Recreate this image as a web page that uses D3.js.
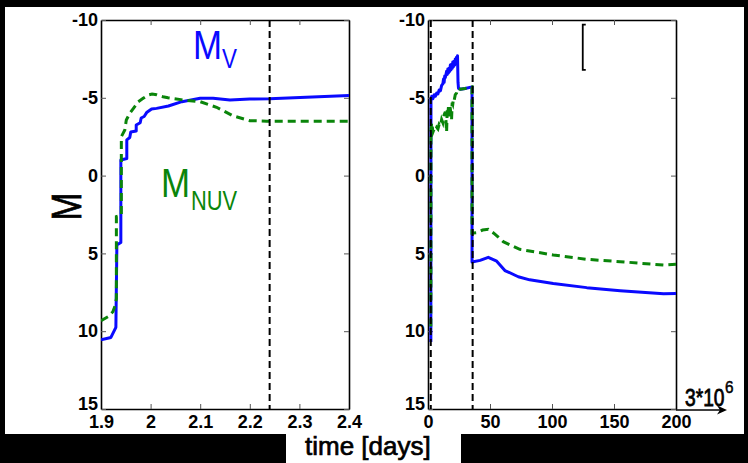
<!DOCTYPE html>
<html><head><meta charset="utf-8">
<script src="https://cdn.jsdelivr.net/npm/d3@7"></script>
<style>
html,body{margin:0;padding:0;background:#000;}
svg{display:block;}
text{font-family:Arial,"Liberation Sans",sans-serif;}
</style></head>
<body><svg id="c" width="748" height="463"></svg>
<script>
// ---------- data ----------
const yTicks = [-10, -5, 0, 5, 10, 15];
const yTickLabels = ["-10", "-5", "0", "5", "10", "15"];
const leftXTicks = [1.9, 2.0, 2.1, 2.2, 2.3, 2.4];
const leftXTickLabels = ["1.9", "2", "2.1", "2.2", "2.3", "2.4"];
const rightXTicks = [0, 50, 100, 150, 200];
const rightXTickLabels = ["0", "50", "100", "150", "200"];

// left panel (time in days, 1.9 - 2.4)
const leftMV = [[1.9,10.55],[1.92,10.4],[1.93,9.75],[1.932,4.45],[1.94,4.3],[1.94,-1.0],[1.952,-1.1],[1.952,-2.3],[1.958,-2.45],[1.960,-2.8],[1.971,-2.87],[1.971,-3.25],[1.979,-3.4],[1.981,-3.7],[1.987,-3.8],[1.992,-4.05],[2.002,-4.28],[2.012,-4.32],[2.036,-4.47],[2.063,-4.75],[2.1,-4.97],[2.126,-4.97],[2.16,-4.86],[2.2,-4.92],[2.24,-4.94],[2.4,-5.14]];
const leftMNUV = [[1.9,9.33],[1.914,9.07],[1.924,8.75],[1.929,8.3],[1.931,7.9],[1.931,2.64],[1.941,2.55],[1.941,-2.5],[1.948,-2.93],[1.951,-3.57],[1.958,-4.0],[1.968,-4.43],[1.975,-4.75],[1.985,-4.97],[1.995,-5.18],[2.003,-5.24],[2.012,-5.2],[2.025,-5.07],[2.035,-5.0],[2.066,-4.86],[2.1,-4.75],[2.133,-4.39],[2.167,-3.83],[2.2,-3.53],[2.234,-3.5],[2.4,-3.5]];

// right panel (time in days, 0 - 200)
const rightMV = [[2.3,10.7],[2.4,-4.9],[3,-5.1],[4,-4.95],[5,-5.2],[6,-5.1],[7,-5.3],[8,-5.25],[9,-5.5],[10,-5.45],[11,-5.8],[12,-5.9],[12.5,-6.2],[13,-6.0],[13.5,-6.4],[14,-6.3],[15,-6.7],[15.5,-6.5],[16,-6.85],[16.5,-6.6],[17,-6.9],[17.5,-6.7],[18,-7.1],[18.5,-6.8],[19,-7.15],[19.5,-6.9],[20,-7.3],[20.5,-7.0],[21,-7.35],[21.5,-7.1],[22,-7.5],[22.5,-7.2],[23,-7.6],[23.5,-7.3],[23.8,-7.7],[24.2,-6.0],[24.6,-5.6],[26,-5.55],[30,-5.6],[35.5,-5.7],[35.5,5.55],[42,5.45],[48.6,5.25],[55.4,5.5],[62,6.1],[72.8,6.5],[82,6.7],[101,6.93],[128,7.2],[155,7.4],[190,7.6],[200,7.57]];
const rightMNUV = [[2.3,9.7],[2.4,-3.0],[3,-3.4],[4,-2.8],[5,-3.0],[6,-2.9],[7,-3.1],[8,-3.0],[9,-3.3],[10,-3.2],[11,-3.6],[12,-3.4],[13,-3.9],[14,-4.1],[14.5,-3.5],[15,-2.8],[15.5,-4.2],[16,-4.0],[16.5,-4.4],[17,-3.8],[17.5,-4.5],[18,-4.3],[19,-3.6],[19.5,-4.7],[20,-4.6],[20.5,-4.9],[21,-4.8],[22,-5.2],[23,-5.3],[24,-5.6],[26,-5.55],[30,-5.6],[35.5,-5.7],[35.5,3.7],[39.3,3.67],[44,3.5],[48.6,3.45],[53,3.7],[56.7,3.95],[60.7,4.25],[74,4.74],[101,5.1],[128,5.38],[155,5.53],[190,5.75],[200,5.7]];

const leftMarkers = [2.24];
const rightMarkers = [2.24, 36];
const bracket = [{t:124.8, top:-9.7, bottom:-6.8}];

// ---------- drawing ----------
const svg = d3.select("#c");
svg.append("rect").attr("width",748).attr("height",463).attr("fill","#000");
svg.append("rect").attr("x",5).attr("y",7).attr("width",739).attr("height",427).attr("fill","#fff");
svg.append("rect").attr("x",286).attr("y",433).attr("width",175).attr("height",30).attr("fill","#fff");

const y = d3.scaleLinear().domain([-10,15]).range([20,409]);
const xL = d3.scaleLinear().domain([1.9,2.4]).range([101,349]);
const xR = d3.scaleLinear().domain([0,200]).range([428,676]);

const BLUE = "#0a0aff", GREEN = "#0a850a";

function panel(id, x, xTicks, xLabels, mv, mnuv, markers) {
  const g = svg.append("g");
  const [x0,x1] = x.range(), [y0,y1] = y.range();
  g.append("clipPath").attr("id","clip"+id).append("rect")
    .attr("x",x0).attr("y",y0).attr("width",x1-x0).attr("height",y1-y0);

  const lab = (vals, labs) => d => labs[vals.indexOf(d)];
  g.append("g").attr("transform",`translate(0,${y1})`)
    .call(d3.axisBottom(x).tickValues(xTicks).tickFormat(lab(xTicks,xLabels)).tickSizeInner(-5).tickSizeOuter(0).tickPadding(6));
  g.append("g").attr("transform",`translate(0,${y0})`)
    .call(d3.axisTop(x).tickValues(xTicks).tickFormat("").tickSizeInner(-5).tickSizeOuter(0));
  const yAx = g.append("g").attr("transform",`translate(${x0},0)`)
    .call(d3.axisLeft(y).tickValues(yTicks).tickFormat(lab(yTicks,yTickLabels)).tickSizeInner(-5).tickSizeOuter(0).tickPadding(3));
  // lowest label sits just above the x labels
  yAx.selectAll(".tick text").filter(d => d === 15).attr("dy","0.05em");
  g.append("g").attr("transform",`translate(${x1},0)`)
    .call(d3.axisRight(y).tickValues(yTicks).tickFormat("").tickSizeInner(-5).tickSizeOuter(0));

  g.selectAll(".domain").attr("stroke","#000").attr("stroke-width",1.6);
  g.selectAll(".tick line").attr("stroke","#555").attr("stroke-width",1);
  g.selectAll(".tick text").attr("font-size",18).attr("font-weight","bold").attr("fill","#000")
    .attr("font-family","Arial, 'Liberation Sans', sans-serif");

  const line = d3.line().x(d=>x(d[0])).y(d=>y(d[1]));
  const plot = g.append("g").attr("clip-path",`url(#clip${id})`);
  plot.append("path").datum(mv).attr("d",line).attr("fill","none")
    .attr("stroke",BLUE).attr("stroke-width",3).attr("stroke-linejoin","round");
  plot.append("path").datum(mnuv).attr("d",line).attr("fill","none")
    .attr("stroke",GREEN).attr("stroke-width",3).attr("stroke-dasharray","8,5");
  plot.selectAll(".marker").data(markers).enter().append("line")
    .attr("x1",d=>x(d)).attr("x2",d=>x(d)).attr("y1",y0).attr("y2",y1)
    .attr("stroke","#000").attr("stroke-width",2).attr("stroke-dasharray","7,4");
  return g;
}

panel("L", xL, leftXTicks, leftXTickLabels, leftMV, leftMNUV, leftMarkers);
const gR = panel("R", xR, rightXTicks, rightXTickLabels, rightMV, rightMNUV, rightMarkers);

gR.selectAll(".br").data(bracket).enter().append("path")
  .attr("d", d => `M${xR(d.t)+3},${y(d.top)} H${xR(d.t)} V${y(d.bottom)} H${xR(d.t)+3}`)
  .attr("fill","none").attr("stroke","#000").attr("stroke-width",1.8);

function txt(str, xx, yy, size, color, sx, weight, sw) {
  const t = svg.append("text").attr("transform",`translate(${xx},${yy}) scale(${sx},1)`)
    .attr("font-size",size).attr("fill",color).attr("font-weight",weight||"normal").text(str);
  if (sw) t.attr("stroke",color).attr("stroke-width",sw);
  return t;
}
txt("M", 193, 59, 41, BLUE, 0.85);
txt("V", 222, 68, 28, BLUE, 0.8);
txt("M", 161, 197, 41, GREEN, 0.85);
txt("NUV", 191, 210, 28, GREEN, 0.78);

svg.append("text").attr("transform","translate(81,206.5) rotate(-90) scale(0.78,1)")
  .attr("text-anchor","middle").attr("font-size",43).attr("fill","#000")
  .attr("stroke","#000").attr("stroke-width",0.8).text("M");

svg.append("text").attr("x",305).attr("y",455).attr("font-size",26).attr("fill","#000")
  .attr("stroke","#000").attr("stroke-width",0.7).text("time [days]");

txt("3*10", 685, 406, 24, "#000", 0.8, "normal", 0.8);
txt("6", 725, 393, 17, "#000", 0.9, "normal", 0.5);
svg.append("line").attr("x1",676).attr("x2",724).attr("y1",410).attr("y2",410).attr("stroke","#000").attr("stroke-width",1.3);
svg.append("path").attr("d","M727,410 L717,405.5 L720,410 L717,414.5 Z").attr("fill","#000");
</script></body></html>
